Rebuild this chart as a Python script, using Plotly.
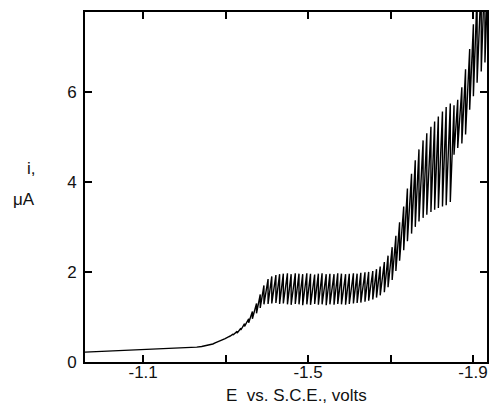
import plotly.graph_objects as go

# Smooth residual-current region before the first wave (potential in V vs. SCE, current in uA)
base_E = [-0.959, -1.000, -1.050, -1.100, -1.140, -1.170, -1.195, -1.215, -1.230,
          -1.242, -1.252, -1.261, -1.269, -1.276, -1.283]
base_i = [0.22, 0.235, 0.25, 0.27, 0.285, 0.295, 0.305, 0.315, 0.33,
          0.345, 0.36, 0.38, 0.40, 0.43, 0.455]

# Drop-by-drop record: potential at each drop fall, current at drop birth (low) and at drop fall (high)
drop_E = [-1.290, -1.299, -1.309, -1.318, -1.328, -1.337, -1.346, -1.356, -1.365, -1.375,
          -1.384, -1.393, -1.403, -1.412, -1.422, -1.431, -1.440, -1.450, -1.459, -1.469,
          -1.478, -1.487, -1.497, -1.506, -1.516, -1.525, -1.534, -1.544, -1.553, -1.563,
          -1.572, -1.581, -1.591, -1.600, -1.610, -1.619, -1.628, -1.638, -1.647, -1.657,
          -1.666, -1.675, -1.685, -1.694, -1.704, -1.713, -1.722, -1.732, -1.741, -1.751,
          -1.760, -1.769, -1.779, -1.788, -1.798, -1.807, -1.816, -1.826, -1.835, -1.845,
          -1.854, -1.863, -1.873, -1.882, -1.892, -1.901, -1.910, -1.920, -1.929, -1.938]
drop_lo = [0.48, 0.52, 0.56, 0.60, 0.64, 0.71, 0.79, 0.87, 0.96, 1.08,
           1.20, 1.28, 1.29, 1.30, 1.31, 1.29, 1.30, 1.28, 1.27, 1.29,
           1.28, 1.26, 1.28, 1.27, 1.29, 1.27, 1.28, 1.26, 1.28, 1.27,
           1.29, 1.28, 1.27, 1.29, 1.30, 1.31, 1.32, 1.34, 1.36, 1.39,
           1.43, 1.48, 1.55, 1.66, 1.82, 2.02, 2.25, 2.48, 2.68, 2.85,
           3.00, 3.12, 3.20, 3.27, 3.33, 3.38, 3.42, 3.45, 3.48, 3.55,
           4.60, 4.75, 4.85, 5.05, 5.60, 5.90, 6.20, 6.45, 6.65, 6.85]
drop_hi = [0.52, 0.57, 0.62, 0.68, 0.75, 0.85, 0.96, 1.12, 1.30, 1.50,
           1.70, 1.84, 1.90, 1.93, 1.95, 1.96, 1.97, 1.95, 1.97, 1.96,
           1.95, 1.97, 1.96, 1.94, 1.96, 1.97, 1.95, 1.96, 1.95, 1.97,
           1.96, 1.95, 1.96, 1.97, 1.96, 1.98, 1.99, 2.00, 2.02, 2.06,
           2.12, 2.22, 2.36, 2.55, 2.80, 3.10, 3.45, 3.85, 4.18, 4.48,
           4.72, 4.92, 5.08, 5.22, 5.34, 5.45, 5.56, 5.66, 5.74, 5.70,
           5.82, 6.10, 6.50, 6.95, 7.50, 8.20, 8.50, 8.80, 9.00, 9.20]

x_tickvals = [-1.1, -1.3, -1.5, -1.7, -1.9]
x_ticktext = ["-1.1", "", "-1.5", "", "-1.9"]
y_tickvals = [0, 2, 4, 6]
y_ticktext = ["0", "2", "4", "6"]

# Pen trace: smooth baseline, then each drop grows (slanted rise) and falls abruptly
xs = list(base_E)
ys = list(base_i)
for k in range(len(drop_E)):
    xs.append(drop_E[k])
    ys.append(drop_lo[k])
    if k + 1 < len(drop_E):
        xs.append(drop_E[k + 1])
        ys.append(drop_hi[k])

FONT = "Liberation Sans, Arial, sans-serif"

fig = go.Figure()
fig.add_trace(go.Scatter(x=xs, y=ys, mode="lines",
                         line=dict(color="black", width=1.4, shape="linear"),
                         showlegend=False, hoverinfo="skip"))

axis_common = dict(showline=True, linecolor="black", linewidth=1.8, mirror="ticks",
                   ticks="inside", ticklen=7, tickwidth=1.5, tickcolor="black",
                   showgrid=False, zeroline=False,
                   tickfont=dict(family=FONT, size=17, color="#111111"))

fig.update_layout(
    width=490, height=405,
    margin=dict(l=85, r=1, t=12, b=43),
    paper_bgcolor="white", plot_bgcolor="white",
    xaxis=dict(range=[-0.959, -1.934], tickvals=x_tickvals, ticktext=x_ticktext,
               ticklabelstandoff=-6, **axis_common),
    yaxis=dict(range=[0, 7.77], tickvals=y_tickvals, ticktext=y_ticktext,
               ticklabelstandoff=3, **axis_common),
    font=dict(family=FONT, color="#111111"),
)

fig.add_annotation(text="E  vs. S.C.E., volts", xref="paper", yref="paper",
                   x=(298 - 85) / 404, y=-(395 - 362) / 350, xanchor="center", yanchor="middle",
                   showarrow=False, font=dict(family=FONT, size=17, color="#111111"))
fig.add_annotation(text="i,", xref="paper", yref="paper",
                   x=(31 - 85) / 404, y=(362 - 168) / 350, xanchor="center", yanchor="middle",
                   showarrow=False, font=dict(family=FONT, size=17, color="#111111"))
fig.add_annotation(text="\u03bcA", xref="paper", yref="paper",
                   x=(24 - 85) / 404, y=(362 - 199) / 350, xanchor="center", yanchor="middle",
                   showarrow=False, font=dict(family=FONT, size=17, color="#111111"))

fig.write_html("out.html")
